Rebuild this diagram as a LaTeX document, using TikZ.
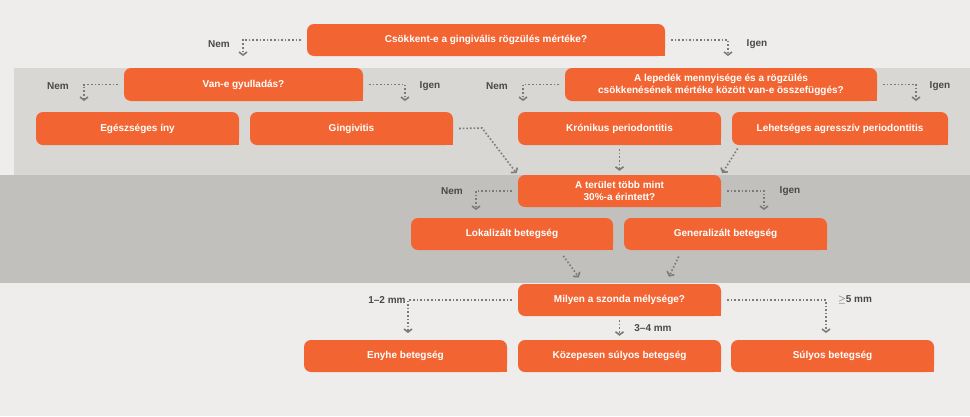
\documentclass[tikz,border=0pt]{standalone}
\usepackage{fontspec}
\setmainfont{Liberation Sans}
\usetikzlibrary{arrows.meta}
\definecolor{boxorange}{HTML}{F26532}
\definecolor{bandlight}{HTML}{EEEDEB}
\definecolor{bandmid}{HTML}{D8D7D4}
\definecolor{banddark}{HTML}{C2C0BC}
\definecolor{linkgray}{HTML}{7A7A78}
\definecolor{labelgray}{HTML}{4A4A48}
\tikzset{
  box/.style={fill=boxorange, rounded corners=7pt, text=white, align=center,
    font=\fontsize{10}{12}\selectfont\bfseries, inner sep=0pt},
  answer/.style={text=labelgray, font=\fontsize{10}{12}\selectfont\bfseries},
  link/.style={draw=linkgray, line width=1.6pt, dash pattern=on 1.6pt off 2pt,
    -{Straight Barb[length=3pt,width=8pt,line width=1.6pt]}}
}
\newcommand\qbox[6]{% name, x1, y1, x2, y2, text
  \node[box, minimum width=#4pt-#2pt, minimum height=#5pt-#3pt] (#1) at ({(#2+#4)/2},{(#3+#5)/2}) {#6};
  \fill[boxorange] (#4-8,#5-8) rectangle (#4,#5);
}
\begin{document}
\begin{tikzpicture}[x=1pt,y=-1pt]
\useasboundingbox (0,0) rectangle (970,416);
% bands
\fill[bandlight] (0,0) rectangle (970,416);
\fill[bandmid] (14,68) rectangle (970,175);
\fill[banddark] (0,175) rectangle (970,283);
% boxes
\qbox{q1}{307}{24}{665}{56}{Csökkent-e a gingivális rögzülés mértéke?}
\qbox{q2}{124}{68}{363}{101}{Van-e gyulladás?}
\qbox{q3}{565}{68}{877}{101}{A lepedék mennyisége és a rögzülés\\csökkenésének mértéke között van-e összefüggés?}
\qbox{r1}{36}{112}{239}{145}{Egészséges íny}
\qbox{r2}{250}{112}{453}{145}{Gingivitis}
\qbox{r3}{518}{112}{721}{145}{Krónikus periodontitis}
\qbox{r4}{732}{112}{948}{145}{Lehetséges agresszív periodontitis}
\qbox{q4}{518}{175}{721}{207}{A terület több mint\\30\%-a érintett?}
\qbox{r5}{411}{218}{613}{250}{Lokalizált betegség}
\qbox{r6}{624}{218}{827}{250}{Generalizált betegség}
\qbox{q5}{518}{284}{721}{316}{Milyen a szonda mélysége?}
\qbox{r7}{304}{340}{507}{372}{Enyhe betegség}
\qbox{r8}{518}{340}{721}{372}{Közepesen súlyos betegség}
\qbox{r9}{731}{340}{934}{372}{Súlyos betegség}
% answers
\node[answer] (a1) at (219,44) {Nem};
\node[answer] (a2) at (757,44) {Igen};
\node[answer] (a3) at (58,86) {Nem};
\node[answer] (a4) at (430,86) {Igen};
\node[answer] (a5) at (497,86) {Nem};
\node[answer] (a6) at (940,86) {Igen};
\node[answer] (a7) at (452,191) {Nem};
\node[answer] (a8) at (790,191) {Igen};
\node[answer] (a9) at (387,300) {1–2 mm};
\node[answer] (a10) at (653,328) {3–4 mm};
\node[answer] (a11) at (855,300) {$\geq$5 mm};
% free ends
\coordinate (e1) at (243,56);
\coordinate (e2) at (728,56);
\coordinate (e3) at (84,101);
\coordinate (e4) at (405,101);
\coordinate (e5) at (523,101);
\coordinate (e6) at (916,101);
\coordinate (e7) at (476,210);
\coordinate (e8) at (764,210);
\coordinate (e9) at (408,333);
\coordinate (e10) at (826,333);
\coordinate (g1) at (482,128);
% connectors
\draw[link, shorten <=6pt] (q1.west) -| (e1);
\draw[link, shorten <=6pt] (q1.east) -| (e2);
\draw[link, shorten <=6pt] (q2.west) -| (e3);
\draw[link, shorten <=6pt] (q2.east) -| (e4);
\draw[link, shorten <=6pt] (q3.west) -| (e5);
\draw[link, shorten <=6pt] (q3.east) -| (e6);
\draw[link, shorten >=2pt] ([xshift=6pt]r2.east) -- (g1) -- (q4.north west);
\draw[link, shorten <=4pt, shorten >=4pt] (r3) -- (q4);
\draw[link, shorten <=4pt, shorten >=2pt] ([xshift=8pt]r4.south west) -- (q4.north east);
\draw[link, shorten <=6pt] (q4.west) -| (e7);
\draw[link, shorten <=6pt] (q4.east) -| (e8);
\draw[link, shorten <=7pt, shorten >=8pt] ([xshift=-54pt]r5.south east) -- ([xshift=-36pt]q5.north);
\draw[link, shorten <=7pt, shorten >=8pt] ([xshift=58pt]r6.south west) -- ([xshift=46pt]q5.north);
\draw[link, shorten <=6pt] (q5.west) -| (e9);
\draw[link, shorten <=6pt] (q5.east) -| (e10);
\draw[link, shorten <=4pt, shorten >=4pt] (q5) -- (r8);
\end{tikzpicture}
\end{document}
